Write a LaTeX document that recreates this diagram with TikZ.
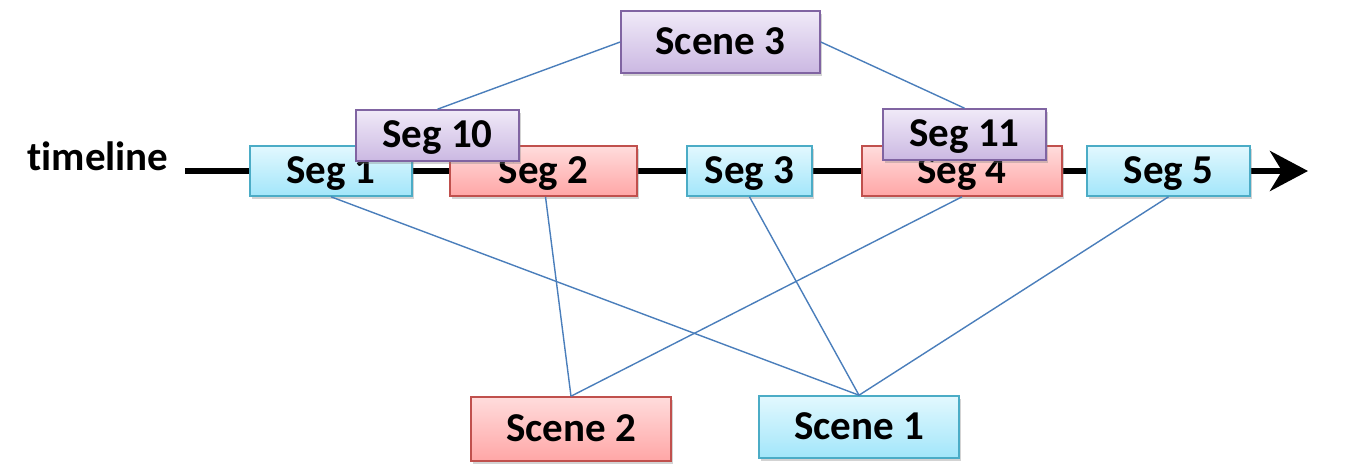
\documentclass[tikz,border=0pt]{standalone}
\usepackage{fontspec}
\setmainfont[Ligatures=NoCommon]{Carlito}
\usetikzlibrary{arrows.meta,shadows}
\definecolor{cyanT}{HTML}{E2F8FE}
\definecolor{cyanB}{HTML}{A2E6FA}
\definecolor{cyanD}{HTML}{4BACC6}
\definecolor{redT}{HTML}{FFDCDC}
\definecolor{redB}{HTML}{FFA6A6}
\definecolor{redD}{HTML}{C0504D}
\definecolor{purT}{HTML}{F0EAF8}
\definecolor{purB}{HTML}{CBB8E2}
\definecolor{purD}{HTML}{8064A2}
\definecolor{link}{HTML}{4A7EBB}
\begin{document}
\begin{tikzpicture}[x=1pt,y=-1pt,
  lbl/.style={font=\fontsize{41}{47}\selectfont\bfseries},
  box/.style={lbl,draw,line width=1.6pt,inner sep=0pt,anchor=center,
    text height=25pt,text depth=0pt,
    drop shadow={opacity=0.35,shadow xshift=2pt,shadow yshift=-3pt}},
  cbox/.style={box,draw=cyanD,top color=cyanT,bottom color=cyanB},
  rbox/.style={box,draw=redD,top color=redT,bottom color=redB},
  pbox/.style={box,draw=purD,top color=purT,bottom color=purB},
  conn/.style={draw=link,line width=1.4pt}]
\useasboundingbox (0,0) rectangle (1357,473);
% timeline
\coordinate (tl0) at (185,171);
\coordinate (tl1) at (1308,171);
\draw[line width=6pt,-{Stealth[length=38pt,width=40pt,inset=12pt]}] (tl0) -- (tl1);
\node[lbl,anchor=center,text height=26pt,text depth=0pt,inner sep=0pt] (tlabel) at (98,158) {timeline};
% nodes
\node[cbox,minimum width=162pt,minimum height=50pt] (s1) at (331,171) {Seg 1};
\node[rbox,minimum width=187pt,minimum height=50pt] (s2) at (543.5,171) {Seg 2};
\node[cbox,minimum width=125pt,minimum height=50pt] (s3) at (749.5,171) {Seg 3};
\node[rbox,minimum width=200pt,minimum height=50pt] (s4) at (962,171) {Seg 4};
\node[cbox,minimum width=163pt,minimum height=50pt] (s5) at (1168.5,171) {Seg 5};
\node[pbox,minimum width=163pt,minimum height=51pt] (s10) at (437.5,135.5) {Seg 10};
\node[pbox,minimum width=163pt,minimum height=51pt] (s11) at (964.5,134.5) {Seg 11};
\node[pbox,minimum width=199pt,minimum height=62pt] (sc3) at (720.5,42) {Scene 3};
\node[rbox,minimum width=200pt,minimum height=64pt] (sc2) at (571,429) {Scene 2};
\node[cbox,minimum width=200pt,minimum height=62pt] (sc1) at (859,427) {Scene 1};
% connectors
\draw[conn] (sc3.west) -- (s10.north);
\draw[conn] (sc3.east) -- (s11.north);
\draw[conn] (s1.south) -- (sc1.north);
\draw[conn] ([xshift=2pt]s2.south) -- (sc2.north);
\draw[conn] (s3.south) -- (sc1.north);
\draw[conn] (s4.south) -- (sc2.north);
\draw[conn] (s5.south) -- (sc1.north);
\end{tikzpicture}
\end{document}
